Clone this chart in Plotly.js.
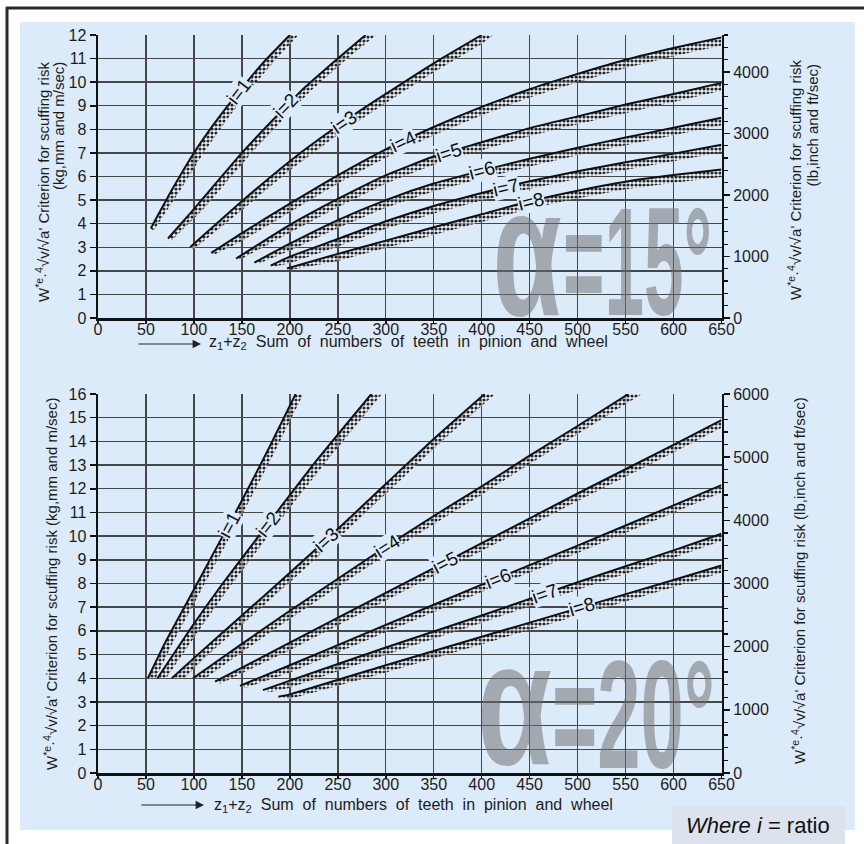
<!DOCTYPE html>
<html>
<head>
<meta charset="utf-8">
<script src="https://cdn.plot.ly/plotly-3.0.1.min.js"></script>
<style>html,body{margin:0;padding:0;background:#fff;}#chart{width:864px;height:844px;}</style>
</head>
<body>
<div id="chart"></div>
<script>
// ===== DATA: alpha = 15 deg (upper chart) — line (upper edge) and shaded band lower edge =====
const t1x = [55, 78, 100, 125, 150, 175, 200];
const t1y = [3.8, 5.5, 7.0, 8.45, 9.75, 10.95, 12.0];
const t1lx = [58, 87, 110, 135, 160, 185, 209];
const t1ly = [3.7, 5.5, 7.0, 8.45, 9.75, 10.95, 12.0];

const t2x = [73, 100, 150, 180, 211, 250, 279];
const t2y = [3.37, 4.62, 7.0, 8.3, 9.6, 11.0, 12.0];
const t2lx = [77, 110, 160, 190, 221, 260, 290];
const t2ly = [3.3, 4.62, 7.0, 8.3, 9.6, 11.0, 12.0];

const t3x = [96, 150, 200, 250, 300, 350, 400];
const t3y = [3.0, 4.95, 6.65, 8.15, 9.5, 10.8, 12.0];
const t3lx = [100, 150, 200, 250, 300, 350, 400, 412];
const t3ly = [2.93, 4.57, 6.27, 7.77, 9.12, 10.42, 11.62, 12.0];

const t4x = [118, 150, 200, 250, 300, 350, 400, 450, 500, 550, 600, 650];
const t4y = [2.76, 3.6, 4.85, 6.05, 7.15, 8.1, 8.95, 9.7, 10.35, 10.95, 11.45, 11.9];
const t4lx = [122, 150, 200, 250, 300, 350, 400, 450, 500, 550, 600, 650];
const t4ly = [2.7, 3.27, 4.5, 5.7, 6.8, 7.75, 8.6, 9.35, 10.0, 10.6, 11.1, 11.55];

const t5x = [144, 200, 250, 300, 350, 400, 450, 500, 550, 600, 650];
const t5y = [2.52, 3.95, 5.05, 6.05, 6.85, 7.45, 8.05, 8.55, 9.05, 9.5, 9.97];
const t5lx = [148, 200, 250, 300, 350, 400, 450, 500, 550, 600, 650];
const t5ly = [2.47, 3.62, 4.7, 5.7, 6.5, 7.12, 7.72, 8.22, 8.72, 9.17, 9.64];

const t6x = [163, 200, 250, 300, 350, 400, 450, 500, 550, 600, 650];
const t6y = [2.35, 3.15, 4.15, 5.0, 5.7, 6.25, 6.75, 7.22, 7.65, 8.07, 8.49];
const t6lx = [167, 200, 250, 300, 350, 400, 450, 500, 550, 600, 650];
const t6ly = [2.3, 2.85, 3.82, 4.67, 5.37, 5.92, 6.42, 6.9, 7.33, 7.75, 8.17];

const t7x = [180, 200, 250, 300, 350, 400, 450, 500, 550, 600, 650];
const t7y = [2.22, 2.6, 3.35, 4.1, 4.75, 5.3, 5.8, 6.22, 6.6, 6.97, 7.35];
const t7lx = [184, 200, 250, 300, 350, 400, 450, 500, 550, 600, 650];
const t7ly = [2.18, 2.32, 3.03, 3.78, 4.43, 4.98, 5.48, 5.9, 6.28, 6.65, 7.03];

const t8x = [197, 250, 300, 350, 400, 450, 500, 550, 600, 650];
const t8y = [2.1, 2.72, 3.28, 3.85, 4.4, 4.95, 5.4, 5.78, 6.06, 6.3];
const t8lx = [202, 250, 300, 350, 400, 450, 500, 550, 600, 650];
const t8ly = [2.05, 2.42, 2.97, 3.53, 4.08, 4.63, 5.08, 5.46, 5.74, 5.98];

// ===== DATA: alpha = 20 deg (lower chart) =====
const b1x = [52, 70, 90, 110, 130, 150, 178, 206];
const b1y = [4.0, 5.5, 7.0, 8.5, 10.0, 11.5, 13.7, 16.0];
const b1lx = [60, 78, 98, 118, 138, 158, 186, 214];
const b1ly = [4.0, 5.5, 7.0, 8.5, 10.0, 11.5, 13.7, 16.0];

const b2x = [62, 100, 130, 160, 190, 230, 285];
const b2y = [4.0, 6.3, 8.0, 9.6, 11.2, 13.3, 16.0];
const b2lx = [71, 110, 140, 170, 200, 241, 296];
const b2ly = [4.0, 6.3, 8.0, 9.6, 11.2, 13.3, 16.0];

const b3x = [77, 100, 150, 200, 250, 300, 350, 403];
const b3y = [4.0, 4.85, 6.65, 8.45, 10.3, 12.2, 14.1, 16.0];
const b3lx = [90, 111, 161, 211, 261, 311, 361, 414];
const b3ly = [4.0, 4.85, 6.65, 8.45, 10.3, 12.2, 14.1, 16.0];

const b4x = [99, 150, 200, 250, 300, 350, 400, 450, 500, 553];
const b4y = [4.0, 5.45, 6.85, 8.2, 9.55, 10.85, 12.1, 13.4, 14.65, 16.0];
const b4lx = [112, 150, 200, 250, 300, 350, 400, 450, 500, 551, 567];
const b4ly = [4.0, 5.1, 6.5, 7.85, 9.2, 10.5, 11.75, 13.05, 14.3, 15.6, 16.0];

const b5x = [122, 200, 300, 400, 500, 600, 650];
const b5y = [3.86, 5.5, 7.6, 9.7, 11.8, 13.85, 14.9];
const b5lx = [128, 200, 300, 400, 500, 600, 650];
const b5ly = [3.78, 5.18, 7.28, 9.38, 11.48, 13.53, 14.58];

const b6x = [148, 200, 300, 400, 500, 600, 650];
const b6y = [3.68, 4.55, 6.25, 7.95, 9.6, 11.3, 12.15];
const b6lx = [154, 200, 300, 400, 500, 600, 650];
const b6ly = [3.6, 4.24, 5.94, 7.64, 9.29, 10.99, 11.84];

const b7x = [172, 200, 300, 400, 500, 600, 650];
const b7y = [3.5, 3.9, 5.3, 6.65, 8.05, 9.4, 10.1];
const b7lx = [180, 200, 300, 400, 500, 600, 650];
const b7ly = [3.42, 3.6, 4.99, 6.34, 7.74, 9.09, 9.79];

const b8x = [188, 200, 300, 400, 500, 600, 650];
const b8y = [3.22, 3.32, 4.55, 5.75, 6.95, 8.15, 8.76];
const b8lx = [200, 300, 400, 500, 600, 650];
const b8ly = [3.12, 4.24, 5.44, 6.64, 7.84, 8.45];

// curve labels
const ratioLabels = ['i=1', 'i=2', 'i=3', 'i=4', 'i=5', 'i=6', 'i=7', 'i=8'];
const topLabelX = [147, 196, 256, 318, 366, 400, 425, 451];
const topLabelY = [9.6, 9.0, 8.31, 7.5, 7.0, 6.25, 5.55, 4.96];
const botLabelX = [137, 177, 238, 301, 362, 417, 466, 505];
const botLabelY = [10.5, 10.5, 9.86, 9.58, 8.9, 8.23, 7.57, 7.01];

// axes
const xRange = [0, 650];
const topLeftRange = [0, 12];
const topRightRange = [0, 4600];
const botLeftRange = [0, 16];
const botRightRange = [0, 6000];

// ===== STYLE / LAYOUT =====
const W = 864, H = 844;
const px = v => v / W;
const py = v => 1 - v / H;
const PANEL = '#dcebfa';
const FONT = 'Liberation Sans, Arial, Helvetica, sans-serif';
const topLabelAngle = [-52, -46, -34, -25, -18, -15, -13, -14];
const botLabelAngle = [-62, -52, -42, -33, -27, -22, -19, -16.5];

const traces = [];
function addCurve(ux, uy, lx, ly, xa, ya) {
  traces.push({
    x: ux.concat(lx.slice().reverse()), y: uy.concat(ly.slice().reverse()),
    xaxis: xa, yaxis: ya, mode: 'lines', line: {width: 0, color: 'rgba(0,0,0,0)'},
    fill: 'toself', fillcolor: 'rgba(0,0,0,0)',
    fillpattern: {shape: '.', fgcolor: '#262626', bgcolor: 'rgba(255,255,255,0.45)', size: 4, solidity: 0.5},
    hoverinfo: 'skip', showlegend: false
  });
  traces.push({
    x: ux, y: uy, xaxis: xa, yaxis: ya, mode: 'lines',
    line: {color: '#111', width: 2, shape: 'spline', smoothing: 0.5},
    hoverinfo: 'skip', showlegend: false
  });
}
[[t1x,t1y,t1lx,t1ly],[t2x,t2y,t2lx,t2ly],[t3x,t3y,t3lx,t3ly],[t4x,t4y,t4lx,t4ly],
 [t5x,t5y,t5lx,t5ly],[t6x,t6y,t6lx,t6ly],[t7x,t7y,t7lx,t7ly],[t8x,t8y,t8lx,t8ly]]
  .forEach(c => addCurve(c[0], c[1], c[2], c[3], 'x', 'y'));
[[b1x,b1y,b1lx,b1ly],[b2x,b2y,b2lx,b2ly],[b3x,b3y,b3lx,b3ly],[b4x,b4y,b4lx,b4ly],
 [b5x,b5y,b5lx,b5ly],[b6x,b6y,b6lx,b6ly],[b7x,b7y,b7lx,b7ly],[b8x,b8y,b8lx,b8ly]]
  .forEach(c => addCurve(c[0], c[1], c[2], c[3], 'x2', 'y3'));
// invisible anchors for the right-hand scales
traces.push({x: [0], y: [0], xaxis: 'x', yaxis: 'y2', mode: 'markers', marker: {opacity: 0}, hoverinfo: 'skip', showlegend: false});
traces.push({x: [0], y: [0], xaxis: 'x2', yaxis: 'y4', mode: 'markers', marker: {opacity: 0}, hoverinfo: 'skip', showlegend: false});

const tickFont = {family: FONT, size: 16, color: '#1c1c1c'};
function xAxis(anchor, dom) {
  return {domain: dom, anchor: anchor, range: xRange, tickmode: 'linear', tick0: 0, dtick: 50,
    showgrid: true, gridcolor: '#474747', gridwidth: 1.4, zeroline: false,
    showline: true, linecolor: '#111', linewidth: 2.5, ticks: 'outside', ticklen: 3, tickwidth: 1.5,
    tickcolor: '#111', tickfont: tickFont, ticklabelstandoff: -8, fixedrange: true};
}
function yLeft(anchor, dom, range) {
  return {domain: dom, anchor: anchor, range: range, tickmode: 'linear', tick0: 0, dtick: 1,
    showgrid: true, gridcolor: '#474747', gridwidth: 1.4, zeroline: false,
    showline: true, linecolor: '#111', linewidth: 2.5, ticks: 'outside', ticklen: 6, tickwidth: 1.5,
    tickcolor: '#111', tickfont: tickFont, fixedrange: true};
}
function yRight(over, anchor, range) {
  return {overlaying: over, anchor: anchor, side: 'right', range: range, tickmode: 'linear', tick0: 0, dtick: 1000,
    showgrid: false, zeroline: false, showline: true, linecolor: '#111', linewidth: 2.5,
    ticks: 'outside', ticklen: 6, tickwidth: 1.5, tickcolor: '#111', tickfont: tickFont,
    minor: {tick0: 0, dtick: 200, ticks: 'outside', ticklen: 4, tickwidth: 1.2, tickcolor: '#111', showgrid: false},
    fixedrange: true};
}

const titleFont = {family: FONT, size: 15, color: '#1c1c1c'};
const formula = "W<sup>*e</sup>·<sup>4</sup>√v/√a'";
const annotations = [];
function paperText(text, x, y, opts) {
  annotations.push(Object.assign({xref: 'paper', yref: 'paper', x: px(x), y: py(y), text: text,
    showarrow: false, font: titleFont}, opts || {}));
}
// axis titles (left / right)
paperText(formula + ' Criterion for scuffing risk', 43, 60, {textangle: -90, xanchor: 'center', yanchor: 'top'});
paperText('(kg,mm and m/sec)', 59, 60, {textangle: -90, xanchor: 'center', yanchor: 'top'});
paperText(formula + ' Criterion for scuffing risk', 794, 58, {textangle: -90, xanchor: 'center', yanchor: 'top'});
paperText('(lb,inch and ft/sec)', 812, 62, {textangle: -90, xanchor: 'center', yanchor: 'top'});
paperText(formula + ' Criterion for scuffing risk (kg,mm and m/sec)', 50, 584, {textangle: -90, xanchor: 'center', yanchor: 'middle'});
paperText(formula + ' Criterion for scuffing risk (lb,inch and ft/sec)', 798, 581, {textangle: -90, xanchor: 'center', yanchor: 'middle'});
// x titles with arrows (wide word spacing as in the original)
const sp = ' \u00A0';
const xTitle = 'z<sub>1</sub>+z<sub>2</sub>' + sp + ['Sum', 'of', 'numbers', 'of', 'teeth', 'in', 'pinion', 'and', 'wheel'].join(sp);
paperText(xTitle, 207, 343, {xanchor: 'left', yanchor: 'middle', font: {family: FONT, size: 16, color: '#1c1c1c'}});
paperText(xTitle, 212, 805, {xanchor: 'left', yanchor: 'middle', font: {family: FONT, size: 16, color: '#1c1c1c'}});
[[201, 344], [204, 805]].forEach(p => annotations.push({xref: 'paper', yref: 'paper', x: px(p[0]), y: py(p[1]),
  ax: -64, ay: 0, text: '', showarrow: true, arrowhead: 2, arrowsize: 1.4, arrowwidth: 1.2, arrowcolor: '#222', standoff: 0}));
// curve labels
ratioLabels.forEach((t, k) => {
  annotations.push({xref: 'x', yref: 'y', x: topLabelX[k], y: topLabelY[k], text: t, showarrow: false,
    textangle: topLabelAngle[k], bgcolor: PANEL, borderpad: 0, font: {family: FONT, size: 19, color: '#111'}});
  annotations.push({xref: 'x2', yref: 'y3', x: botLabelX[k], y: botLabelY[k], text: t, showarrow: false,
    textangle: botLabelAngle[k], bgcolor: PANEL, borderpad: 0, font: {family: FONT, size: 19, color: '#111'}});
});
// "Where i = ratio"
paperText('<i>Where i</i> = ratio', 758, 825, {xanchor: 'center', yanchor: 'middle', font: {family: FONT, size: 22, color: '#111'}});
// big angle marks
const bigStart = annotations.length;
const big = [
  {t: 'α', x: 527.5, y: 251, s: 183, w: 69},
  {t: '=15°', x: 637.5, y: 262, s: 154, w: 149},
  {t: 'α', x: 514.5, y: 703, s: 177, w: 75},
  {t: '=20°', x: 633.5, y: 715, s: 154, w: 163}
];
big.forEach(b => paperText(b.t, b.x, b.y, {xanchor: 'center', yanchor: 'middle',
  font: {family: FONT, size: b.s, color: 'rgba(110,110,110,0.52)', weight: 'bold'}}));

const layout = {
  width: W, height: H, margin: {l: 0, r: 0, t: 0, b: 0, pad: 0},
  paper_bgcolor: '#ffffff', plot_bgcolor: 'rgba(0,0,0,0)', showlegend: false,
  font: {family: FONT, color: '#1c1c1c'},
  xaxis: xAxis('y', [px(98), px(721.5)]),
  yaxis: yLeft('x', [py(318), py(35)], topLeftRange),
  yaxis2: yRight('y', 'x', topRightRange),
  xaxis2: xAxis('y3', [px(98), px(721.5)]),
  yaxis3: yLeft('x2', [py(773), py(394)], botLeftRange),
  yaxis4: yRight('y3', 'x2', botRightRange),
  shapes: [
    {type: 'rect', xref: 'paper', yref: 'paper', x0: px(20), x1: px(855), y0: py(830), y1: py(22),
      fillcolor: PANEL, line: {width: 0}, layer: 'below'},
    {type: 'rect', xref: 'paper', yref: 'paper', x0: px(672), x1: px(845), y0: py(844), y1: py(806),
      fillcolor: '#dde3ec', line: {width: 0}, layer: 'below'},
    {type: 'line', xref: 'paper', yref: 'paper', x0: px(6), x1: 1, y0: py(8), y1: py(8),
      line: {color: '#2a2a2a', width: 3}, layer: 'above'},
    {type: 'line', xref: 'paper', yref: 'paper', x0: px(7), x1: px(7), y0: py(7), y1: 0,
      line: {color: '#2a2a2a', width: 3}, layer: 'above'}
  ],
  annotations: annotations
};

function squeeze() {
  big.forEach((b, k) => {
    const g = document.querySelector('g.annotation[data-index="' + (bigStart + k) + '"]');
    if (!g) return;
    const t = g.querySelector('text.annotation-text');
    if (!t) return;
    const bb = t.getBBox();
    if (!bb.width) return;
    const s = b.w / bb.width;
    const cx = bb.x + bb.width / 2;
    t.setAttribute('transform', 'translate(' + cx + ',0) scale(' + s + ',1) translate(' + (-cx) + ',0)');
  });
}
Plotly.newPlot('chart', traces, layout, {staticPlot: true, displayModeBar: false}).then(squeeze);
</script>
</body>
</html>
